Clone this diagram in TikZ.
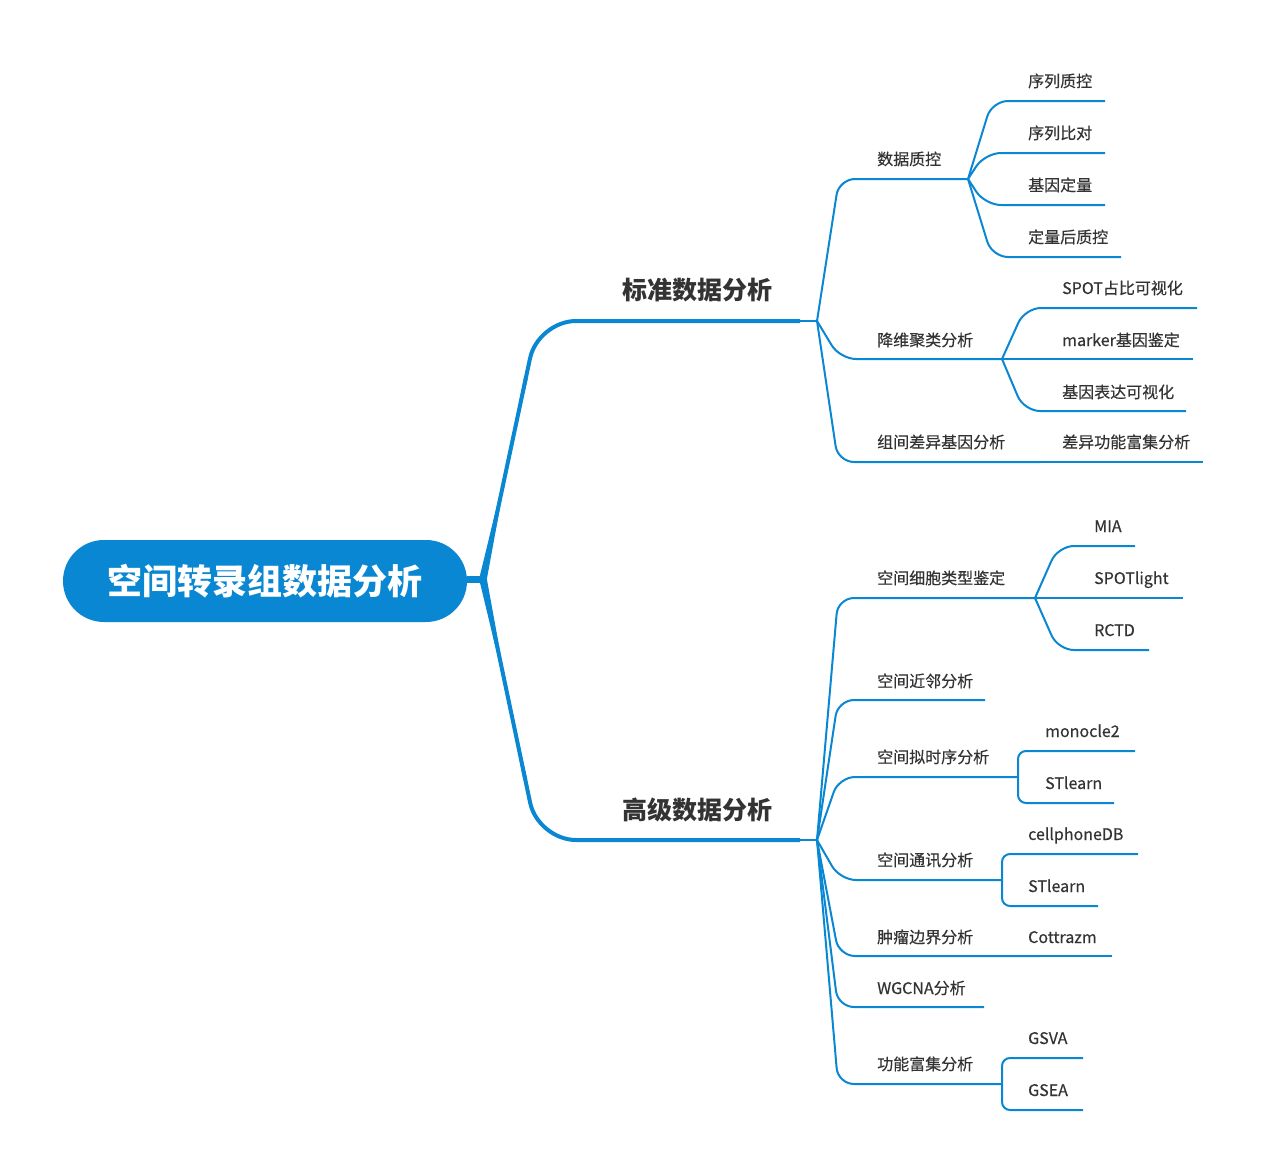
\documentclass[tikz,border=0pt]{standalone}
\usepackage{fontspec}
\setmainfont{Noto Sans CJK SC}
\newfontfamily\mmmedium{Noto Sans CJK SC}[FakeBold=0.4]
\usetikzlibrary{calc}
\definecolor{mmblue}{HTML}{0A87D2}
\definecolor{mmtext}{HTML}{333333}
\begin{document}
\begin{tikzpicture}[x=1pt,y=-1pt,
  lvtwo/.style={anchor=base west, inner sep=0pt, font=\mmmedium\fontsize{16}{16}\selectfont, text=mmtext},
  lvone/.style={anchor=base, inner sep=0pt, font=\fontsize{25}{25}\selectfont\bfseries, text=mmtext},
  thinline/.style={draw=mmblue, line width=2pt, rounded corners=16pt},
  elbowline/.style={draw=mmblue, line width=2pt, rounded corners=8pt},
  thickline/.style={draw=mmblue, line width=4pt, rounded corners=38pt},
]
\useasboundingbox (0,0) rectangle (1267,1175);

% root
\node[fill=mmblue, rounded corners=41pt, minimum width=404pt, minimum height=82pt, inner sep=0pt,
  text=white, font=\fontsize{35}{35}\selectfont\bfseries] (root) at (265,581) {空间转录组数据分析};

\coordinate (rj) at (483,579);
\coordinate (c1) at (538,321);
\coordinate (c2) at (538,840);
\coordinate (e1) at (800,321);
\coordinate (e2) at (800,840);
\coordinate (j1) at (817,321);
\coordinate (j2) at (817,840);

\draw[mmblue, line width=7pt] (root.east |- rj) -- (rj);
\draw[thickline] (rj) -- (c1) -- (e1);
\draw[thickline] (rj) -- (c2) -- (e2);
\fill[mmblue] ($(rj)!3.8pt!90:(c1)$) -- ($(rj)!3.8pt!-90:(c1)$)
  -- ($($(rj)!205pt!(c1)$)!2pt!90:(c1)$) -- ($($(rj)!205pt!(c1)$)!2pt!-90:(c1)$) -- cycle;
\fill[mmblue] ($(rj)!3.8pt!90:(c2)$) -- ($(rj)!3.8pt!-90:(c2)$)
  -- ($($(rj)!205pt!(c2)$)!2pt!90:(c2)$) -- ($($(rj)!205pt!(c2)$)!2pt!-90:(c2)$) -- cycle;
\draw[thinline] (e1) -- (j1);
\draw[thinline] (e2) -- (j2);

\node[lvone] (std) at (697,299) {标准数据分析};
\node[lvone] (adv) at (697,819) {高级数据分析};

% ---------- standard branch ----------
\coordinate (jqc) at (968,179);
\coordinate (jdr) at (1002,359);
\coordinate (jde) at (1040,462);
\draw[thinline] (j1) -- (839,179) -- (jqc);
\draw[thinline] (j1) -- (840,359) -- (jdr);
\draw[thinline] (j1) -- (838,462) -- (jde);
\node[lvtwo] (qc) at (877,165) {数据质控};
\node[lvtwo] (dr) at (877,346) {降维聚类分析};
\node[lvtwo] (de) at (877,448) {组间差异基因分析};

\coordinate (qc1e) at (1105,101);
\coordinate (qc2e) at (1105,153);
\coordinate (qc3e) at (1105,205);
\coordinate (qc4e) at (1121,257);
\draw[thinline] (jqc) -- (992,101) -- (qc1e);
\draw[thinline] (jqc) -- (985,153) -- (qc2e);
\draw[thinline] (jqc) -- (985,205) -- (qc3e);
\draw[thinline] (jqc) -- (992,257) -- (qc4e);
\node[lvtwo] (qc1) at (1028,87) {序列质控};
\node[lvtwo] (qc2) at (1028,139) {序列比对};
\node[lvtwo] (qc3) at (1028,191) {基因定量};
\node[lvtwo] (qc4) at (1028,243) {定量后质控};

\coordinate (dr1e) at (1197,308);
\coordinate (dr2e) at (1193,359);
\coordinate (dr3e) at (1186,411);
\draw[thinline] (jdr) -- (1025,308) -- (dr1e);
\draw[thinline] (jdr) -- (dr2e);
\draw[thinline] (jdr) -- (1024,411) -- (dr3e);
\node[lvtwo] (dr1) at (1062,294) {SPOT占比可视化};
\node[lvtwo] (dr2) at (1062,346) {marker基因鉴定};
\node[lvtwo] (dr3) at (1062,398) {基因表达可视化};

\coordinate (de1e) at (1203,462);
\draw[thinline] (jde) -- (de1e);
\node[lvtwo] (de1) at (1062,448) {差异功能富集分析};

% ---------- advanced branch ----------
\coordinate (jct) at (1035,598);
\coordinate (jnb) at (985,700);
\coordinate (jpt) at (1018,777);
\coordinate (jcc) at (1002,880);
\coordinate (jtb) at (1040,956);
\coordinate (jwg) at (984,1007);
\coordinate (jfe) at (1002,1084);
\draw[thinline] (j2) -- (838,598) -- (jct);
\draw[thinline] (j2) -- (838,700) -- (jnb);
\draw[thinline] (j2) -- (839,777) -- (jpt);
\draw[thinline] (j2) -- (840,880) -- (jcc);
\draw[thinline] (j2) -- (839,956) -- (jtb);
\draw[thinline] (j2) -- (838,1007) -- (jwg);
\draw[thinline] (j2) -- (838,1084) -- (jfe);
\node[lvtwo] (ct) at (877,584) {空间细胞类型鉴定};
\node[lvtwo] (nb) at (877,687) {空间近邻分析};
\node[lvtwo] (pt) at (877,763) {空间拟时序分析};
\node[lvtwo] (cc) at (877,866) {空间通讯分析};
\node[lvtwo] (tb) at (877,943) {肿瘤边界分析};
\node[lvtwo] (wg) at (877,994) {WGCNA分析};
\node[lvtwo] (fe) at (877,1070) {功能富集分析};

\coordinate (ct1e) at (1135,546);
\coordinate (ct2e) at (1183,598);
\coordinate (ct3e) at (1149,650);
\draw[thinline] (jct) -- (1058,546) -- (ct1e);
\draw[thinline] (jct) -- (ct2e);
\draw[thinline] (jct) -- (1058,650) -- (ct3e);
\node[lvtwo] (ct1) at (1094,532) {MIA};
\node[lvtwo] (ct2) at (1094,584) {SPOTlight};
\node[lvtwo] (ct3) at (1094,636) {RCTD};

\coordinate (pt1e) at (1135,751);
\coordinate (pt2e) at (1114,803);
\draw[elbowline] (jpt) -- (1018,751) -- (pt1e);
\draw[elbowline] (jpt) -- (1018,803) -- (pt2e);
\node[lvtwo] (pt1) at (1045,737) {monocle2};
\node[lvtwo] (pt2) at (1045,789) {STlearn};

\coordinate (cc1e) at (1138,854);
\coordinate (cc2e) at (1098,906);
\draw[elbowline] (jcc) -- (1002,854) -- (cc1e);
\draw[elbowline] (jcc) -- (1002,906) -- (cc2e);
\node[lvtwo] (cc1) at (1028,840) {cellphoneDB};
\node[lvtwo] (cc2) at (1028,892) {STlearn};

\coordinate (tb1e) at (1112,956);
\draw[thinline] (jtb) -- (tb1e);
\node[lvtwo] (tb1) at (1028,943) {Cottrazm};

\coordinate (fe1e) at (1083,1058);
\coordinate (fe2e) at (1083,1110);
\draw[elbowline] (jfe) -- (1002,1058) -- (fe1e);
\draw[elbowline] (jfe) -- (1002,1110) -- (fe2e);
\node[lvtwo] (fe1) at (1028,1044) {GSVA};
\node[lvtwo] (fe2) at (1028,1096) {GSEA};
\end{tikzpicture}
\end{document}
